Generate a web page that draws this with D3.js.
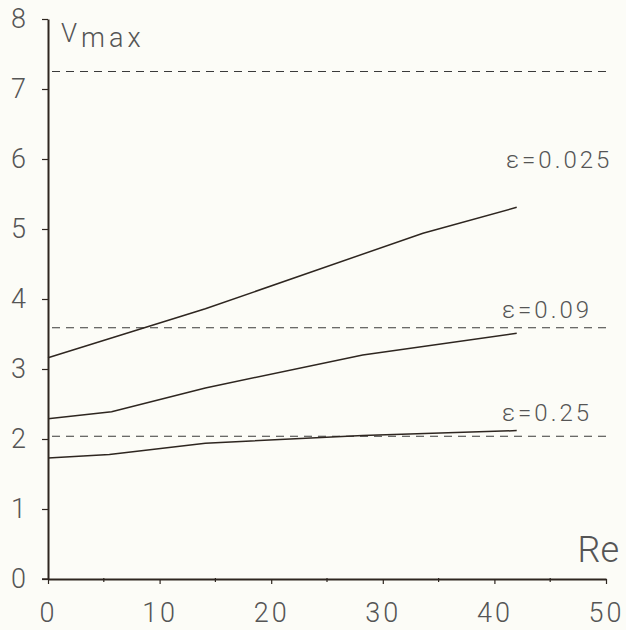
<!DOCTYPE html>
<html>
<head>
<meta charset="utf-8">
<script src="https://cdn.jsdelivr.net/npm/d3@7"></script>
<style>
  html, body { margin: 0; padding: 0; background: #fcfcf7; }
  svg { display: block; }
  text { font-family: Roboto, "DejaVu Sans", sans-serif; font-weight: 300; fill: #555; }
</style>
</head>
<body>
<svg id="chart" width="626" height="630"></svg>
<script>
// Maximum velocity Vmax against Reynolds number Re for three values of ε
const re0025 = [0, 14.1, 33.6, 42];
const v0025 = [3.16, 3.86, 4.94, 5.31];

const re009 = [0, 5.7, 14.1, 28.2, 42];
const v009 = [2.29, 2.39, 2.73, 3.2, 3.51];

const re025 = [0, 5.5, 14.1, 28.2, 42];
const v025 = [1.73, 1.78, 1.94, 2.05, 2.12];

// Limiting values (dashed reference levels)
const limits = [7.25, 3.59, 2.04];

const seriesLabels = ["ε=0.025", "ε=0.09", "ε=0.25"];
const xTicks = [0, 10, 20, 30, 40, 50];
const yTicks = [0, 1, 2, 3, 4, 5, 6, 7, 8];

const svg = d3.select("#chart");
const x = d3.scaleLinear().domain([0, 50]).range([48, 606]);
const y = d3.scaleLinear().domain([0, 8]).range([579, 19]);

const ink = "#2e2620";

// dashed limit levels
svg.append("g").selectAll("line").data(limits).join("line")
  .attr("x1", x(0) + 4).attr("x2", x(50))
  .attr("y1", d => y(d)).attr("y2", d => y(d))
  .attr("stroke", "#3a3a3a").attr("stroke-width", 1.1)
  .attr("stroke-dasharray", "8,6");

// curves
const series = [
  { re: re0025, v: v0025 },
  { re: re009, v: v009 },
  { re: re025, v: v025 }
];
const line = d3.line().x(d => x(d[0])).y(d => y(d[1]));
svg.append("g").selectAll("path").data(series).join("path")
  .attr("d", s => line(s.re.map((r, i) => [r, s.v[i]])))
  .attr("fill", "none").attr("stroke", ink).attr("stroke-width", 1.5);

// series labels, placed above each curve's right end
const labelPos = [
  { x: 506, y: 168 },
  { x: 502, y: 318 },
  { x: 502, y: 421 }
];
svg.append("g").selectAll("text").data(seriesLabels).join("text")
  .attr("x", (d, i) => labelPos[i].x).attr("y", (d, i) => labelPos[i].y)
  .attr("font-size", 24).attr("letter-spacing", 3)
  .text(d => d);

// y axis
const yAxis = d3.axisLeft(y).tickValues(yTicks).tickSize(6).tickSizeOuter(0).tickPadding(16);
const gy = svg.append("g").attr("transform", `translate(${x(0)},0)`).call(yAxis);
gy.select(".domain").attr("stroke", ink).attr("stroke-width", 2);
gy.selectAll(".tick line").attr("stroke", ink).attr("stroke-width", 1.2);
gy.selectAll(".tick text").attr("font-size", 27).attr("fill", "#555")
  .style("font-family", "Roboto, sans-serif").style("font-weight", 300);

// x axis with minor ticks every 5
const xAxis = d3.axisBottom(x).tickValues(xTicks).tickSize(5).tickSizeOuter(0).tickPadding(19);
const gx = svg.append("g").attr("transform", `translate(0,${y(0)})`).call(xAxis);
gx.select(".domain").attr("stroke", ink).attr("stroke-width", 1.8);
gx.selectAll(".tick line").attr("stroke", ink).attr("stroke-width", 1.2);
gx.selectAll(".tick text").attr("font-size", 27).attr("fill", "#555")
  .attr("letter-spacing", 3)
  .style("font-family", "Roboto, sans-serif").style("font-weight", 300);
const minor = d3.range(5, 50, 10);
svg.append("g").selectAll("line").data(minor).join("line")
  .attr("x1", d => x(d)).attr("x2", d => x(d))
  .attr("y1", y(0) - 1).attr("y2", y(0) + 3)
  .attr("stroke", ink).attr("stroke-width", 1.2);
// short stub of the x axis left of the origin
svg.append("line").attr("x1", x(0) - 6).attr("x2", x(0))
  .attr("y1", y(0)).attr("y2", y(0)).attr("stroke", ink).attr("stroke-width", 1.5);

// axis titles
const vt = svg.append("text").attr("x", 61).attr("y", 42);
vt.append("tspan").attr("font-size", 26).text("V");
vt.append("tspan").attr("font-size", 27).attr("dy", 5).attr("dx", 4)
  .attr("letter-spacing", 4).text("max");

svg.append("text").attr("x", 619).attr("y", 562).attr("text-anchor", "end")
  .attr("font-size", 36).text("Re");
</script>
</body>
</html>
